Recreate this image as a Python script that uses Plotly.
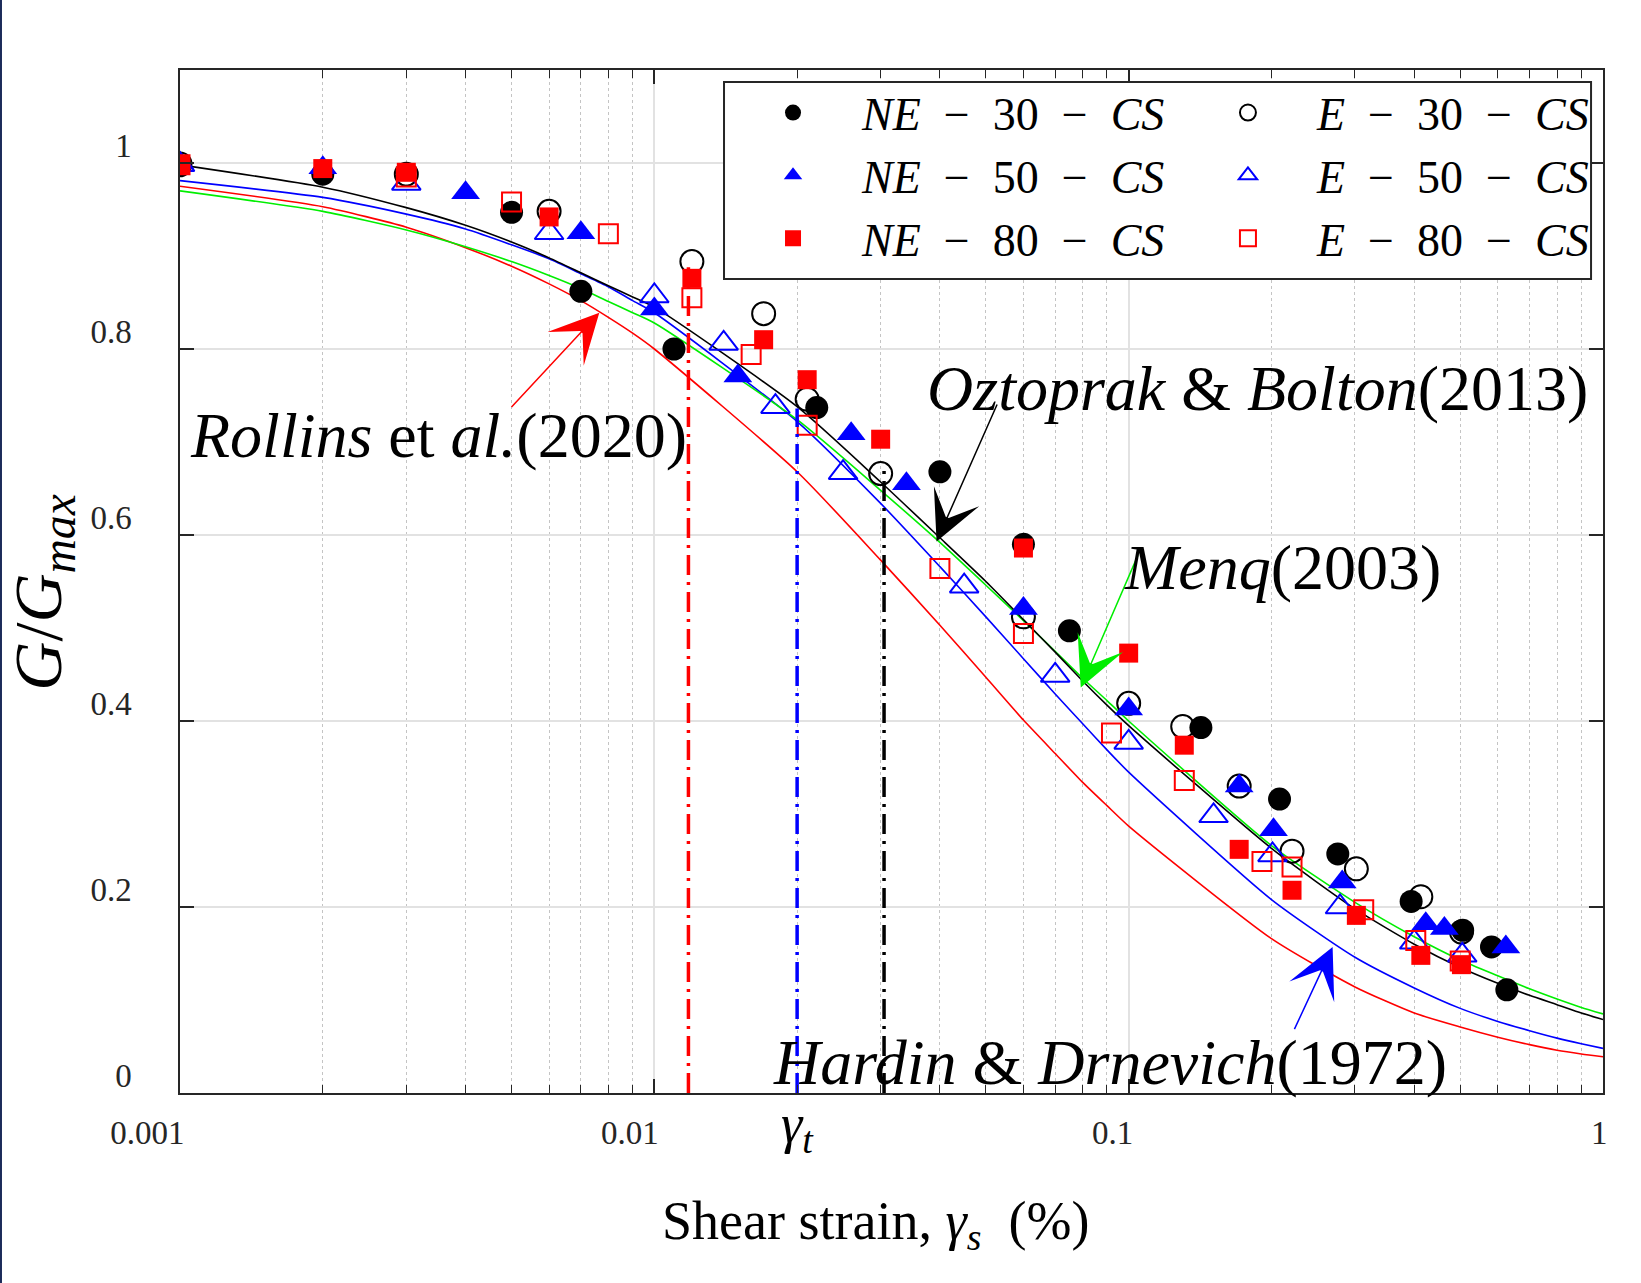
import plotly.graph_objects as go

# ---------------- model curves ----------------
gamma_model = [0.001, 0.002, 0.003, 0.004, 0.005, 0.006, 0.007, 0.008, 0.009,
               0.01, 0.02, 0.03, 0.04, 0.05, 0.06, 0.07, 0.08, 0.09,
               0.1, 0.2, 0.3, 0.4, 0.5, 0.6, 0.7, 0.8, 0.9, 1.0]
oztoprak_bolton_2013 = [0.998, 0.974, 0.952, 0.933, 0.915, 0.898, 0.882, 0.868, 0.856,
                        0.845, 0.738, 0.657, 0.597, 0.550, 0.509, 0.474, 0.443, 0.417,
                        0.395, 0.263, 0.198, 0.160, 0.135, 0.118, 0.105, 0.095, 0.086, 0.079]
menq_2003 = [0.970, 0.948, 0.928, 0.910, 0.894, 0.879, 0.865, 0.851, 0.839,
             0.828, 0.724, 0.648, 0.592, 0.546, 0.508, 0.475, 0.446, 0.422,
             0.400, 0.266, 0.205, 0.168, 0.143, 0.126, 0.112, 0.101, 0.092, 0.085]
hardin_drnevich_1972 = [0.981, 0.963, 0.945, 0.929, 0.912, 0.897, 0.881, 0.867, 0.852,
                        0.839, 0.722, 0.634, 0.566, 0.512, 0.467, 0.429, 0.397, 0.369,
                        0.345, 0.208, 0.146, 0.113, 0.091, 0.077, 0.067, 0.059, 0.053, 0.048]
rollins_2020 = [0.975, 0.953, 0.931, 0.909, 0.889, 0.870, 0.852, 0.834, 0.817,
                0.800, 0.668, 0.573, 0.503, 0.447, 0.401, 0.365, 0.334, 0.309,
                0.287, 0.166, 0.114, 0.086, 0.071, 0.060, 0.052, 0.046, 0.042, 0.039]

# ---------------- threshold strains ----------------
threshold_strain = [0.0118, 0.0200, 0.0305]
threshold_top = [0.888, 0.736, 0.674]
threshold_color = ["#ff0000", "#0000ff", "#000000"]

# ---------------- test data ----------------
ne30_x = [0.001, 0.002, 0.005, 0.007, 0.011, 0.022, 0.040, 0.060, 0.075, 0.142, 0.208, 0.276, 0.394, 0.506, 0.582, 0.627]
ne30_y = [0.997, 0.988, 0.947, 0.862, 0.800, 0.737, 0.668, 0.590, 0.497, 0.393, 0.316, 0.257, 0.206, 0.175, 0.157, 0.111]
e30_x = [0.001, 0.003, 0.006, 0.012, 0.017, 0.021, 0.030, 0.060, 0.100, 0.130, 0.171, 0.221, 0.302, 0.413, 0.503]
e30_y = [0.999, 0.988, 0.948, 0.894, 0.838, 0.746, 0.666, 0.512, 0.419, 0.394, 0.330, 0.260, 0.241, 0.211, 0.173]
ne50_x = [0.001, 0.002, 0.004, 0.007, 0.010, 0.015, 0.026, 0.034, 0.060, 0.100, 0.171, 0.202, 0.282, 0.423, 0.463, 0.624]
ne50_y = [1.000, 0.995, 0.968, 0.925, 0.843, 0.771, 0.709, 0.655, 0.521, 0.413, 0.330, 0.283, 0.227, 0.182, 0.177, 0.157]
e50_x = [0.001, 0.003, 0.006, 0.010, 0.014, 0.018, 0.025, 0.045, 0.070, 0.100, 0.151, 0.201, 0.279, 0.400, 0.505]
e50_y = [0.998, 0.978, 0.925, 0.857, 0.806, 0.738, 0.667, 0.545, 0.449, 0.377, 0.298, 0.256, 0.200, 0.162, 0.148]
ne80_x = [0.001, 0.002, 0.003, 0.006, 0.012, 0.017, 0.021, 0.030, 0.060, 0.100, 0.131, 0.171, 0.221, 0.302, 0.413, 0.503]
ne80_y = [0.998, 0.994, 0.990, 0.942, 0.876, 0.810, 0.767, 0.703, 0.586, 0.473, 0.374, 0.262, 0.218, 0.191, 0.148, 0.138]
e80_x = [0.001, 0.003, 0.005, 0.008, 0.012, 0.016, 0.021, 0.040, 0.060, 0.092, 0.131, 0.191, 0.221, 0.313, 0.403, 0.500]
e80_y = [0.998, 0.985, 0.958, 0.924, 0.855, 0.794, 0.718, 0.564, 0.494, 0.387, 0.336, 0.249, 0.243, 0.197, 0.164, 0.142]

x_tick_vals = [0.001, 0.01, 0.1, 1]
x_tick_text = ["0.001", "0.01", "0.1", "1"]
x_minor_vals = [0.002, 0.003, 0.004, 0.005, 0.006, 0.007, 0.008, 0.009,
                0.02, 0.03, 0.04, 0.05, 0.06, 0.07, 0.08, 0.09,
                0.2, 0.3, 0.4, 0.5, 0.6, 0.7, 0.8, 0.9]
y_tick_vals = [0, 0.2, 0.4, 0.6, 0.8, 1.0]
y_tick_text = ["0", "0.2", "0.4", "0.6", "0.8", "1"]

SERIF = "Liberation Serif"
AX = "#262626"
NB = "\u00a0"


def lname(pre, num):
    sep = NB + NB + "\u2212" + NB + NB
    return "<i>" + pre + "</i>" + sep + num + sep + "<i>CS</i>"


fig = go.Figure()

# model curves
for vals, col in [(rollins_2020, "#ff0000"), (hardin_drnevich_1972, "#0000ff"),
                  (menq_2003, "#00ee00"), (oztoprak_bolton_2013, "#000000")]:
    fig.add_trace(go.Scatter(x=gamma_model, y=vals, mode="lines",
                             line=dict(color=col, width=1.6, shape="spline", smoothing=0.6),
                             showlegend=False, hoverinfo="skip"))

# data series
series = [
    (ne30_x, ne30_y, lname("NE", "30"), "circle", 23, "#000000", "legend"),
    (e30_x, e30_y, lname("E", "30"), "circle-open", 23, "#000000", "legend2"),
    (ne50_x, ne50_y, lname("NE", "50"), "triangle-up", 25, "#0000ff", "legend"),
    (e50_x, e50_y, lname("E", "50"), "triangle-up-open", 25, "#0000ff", "legend2"),
    (ne80_x, ne80_y, lname("NE", "80"), "square", 19, "#ff0000", "legend"),
    (e80_x, e80_y, lname("E", "80"), "square-open", 19, "#ff0000", "legend2"),
]
for xs, ys, name, sym, size, col, leg in series:
    fig.add_trace(go.Scatter(x=xs, y=ys, mode="markers", name=name, legend=leg,
                             marker=dict(symbol=sym, size=size, color=col,
                                         line=dict(color=col, width=2 if "open" in sym else 0))))

# threshold dash-dot lines
for t, top, col in zip(threshold_strain, threshold_top, threshold_color):
    fig.add_trace(go.Scatter(x=[t, t], y=[0, top], mode="lines",
                             line=dict(color=col, width=3.5, dash="20px,7px,3px,7px"),
                             showlegend=False, hoverinfo="skip"))

ann_font = dict(family=SERIF, size=64, color="black")
arrows = [
    # (head_logx, head_y, tail_logx, tail_y, color)
    (-2.116, 0.839, -2.304, 0.736, "#ff0000"),
    (-1.405, 0.593, -1.276, 0.742, "#000000"),
    (-1.101, 0.436, -0.979, 0.580, "#00ee00"),
    (-0.570, 0.157, -0.652, 0.067, "#0000ff"),
]
annotations = []
for hx, hy, tx, ty, col in arrows:
    annotations.append(dict(x=hx, y=hy, ax=tx, ay=ty, xref="x", yref="y", axref="x", ayref="y",
                            text="", showarrow=True, arrowhead=3, arrowsize=5.5, arrowwidth=1.5,
                            arrowcolor=col))
texts = [
    ("<i>Rollins</i> et <i>al.</i>(2020)", -2.456, 0.707),
    ("<i>Oztoprak</i> &amp; <i>Bolton</i>(2013)", -0.729, 0.757),
    ("<i>Menq</i>(2003)", -0.675, 0.565),
    ("<i>Hardin</i> &amp; <i>Drnevich</i>(1972)", -1.039, 0.033),
]
for txt, x, y in texts:
    annotations.append(dict(x=x, y=y, xref="x", yref="y", text=txt, showarrow=False,
                            xanchor="center", yanchor="middle", font=ann_font))
# gamma_t label
annotations.append(dict(x=-1.699, y=-0.034, xref="x", yref="paper", text="<i>\u03b3<sub>t</sub></i>",
                        showarrow=False, xanchor="center", yanchor="middle",
                        font=dict(family=SERIF, size=54, color="black")))
# axis titles
annotations.append(dict(x=0.489, y=-0.129, xref="paper", yref="paper",
                        text="Shear strain, <i>\u03b3<sub>s</sub></i>" + NB + NB + "(%)",
                        showarrow=False, xanchor="center", yanchor="middle",
                        font=dict(family=SERIF, size=54, color="black")))
annotations.append(dict(x=-0.0965, y=0.4888, xref="paper", yref="paper",
                        text="<i>G</i>/<i>G</i><sub><i>max</i></sub>", textangle=-90,
                        showarrow=False, xanchor="center", yanchor="middle",
                        font=dict(family=SERIF, size=68, color="black")))

shapes = [
    dict(type="rect", xref="paper", yref="paper", x0=0.3823, x1=0.9916, y0=0.7957, y1=0.9883,
         line=dict(color=AX, width=2), fillcolor="white", layer="above"),
    dict(type="line", xref="paper", yref="paper", x0=-0.1258, x1=-0.1258, y0=-0.186, y1=1.069,
         line=dict(color="#1c2b5a", width=2)),
]

leg_common = dict(xanchor="left", yanchor="top", bgcolor="rgba(0,0,0,0)", borderwidth=0,
                  font=dict(family=SERIF, size=46, color="black"), itemwidth=128,
                  tracegroupgap=0, orientation="v")

fig.update_layout(
    width=1641, height=1283,
    margin=dict(l=180, r=38, t=70, b=190),
    paper_bgcolor="white", plot_bgcolor="white",
    annotations=annotations, shapes=shapes,
    legend=dict(x=0.3823, y=0.994, **leg_common),
    legend2=dict(x=0.702, y=0.994, **leg_common),
    xaxis=dict(type="log", range=[-3, 0], tickmode="array", tickvals=x_tick_vals, ticktext=x_tick_text,
               ticks="inside", ticklen=14, tickwidth=1.5, tickcolor=AX,
               showline=True, linecolor=AX, linewidth=1.5, mirror="ticks",
               showgrid=True, gridcolor="#e2e2e2", gridwidth=1.5, zeroline=False,
               tickfont=dict(family=SERIF, size=33, color=AX),
               ticklabelposition="outside left", ticklabelshift=6, ticklabelstandoff=10,
               minor=dict(tickmode="array", tickvals=x_minor_vals, ticks="inside", ticklen=8,
                          tickwidth=1.2, tickcolor=AX, showgrid=True, gridcolor="#c4c4c4",
                          griddash="dot", gridwidth=1)),
    yaxis=dict(range=[0, 1.1], tickmode="array", tickvals=y_tick_vals, ticktext=y_tick_text,
               ticks="inside", ticklen=14, tickwidth=1.5, tickcolor=AX,
               showline=True, linecolor=AX, linewidth=1.5, mirror="ticks",
               showgrid=True, gridcolor="#e2e2e2", gridwidth=1.5, zeroline=False,
               tickfont=dict(family=SERIF, size=33, color=AX),
               ticklabelshift=-18, ticklabelstandoff=40),
)

fig.write_html("out.html")
